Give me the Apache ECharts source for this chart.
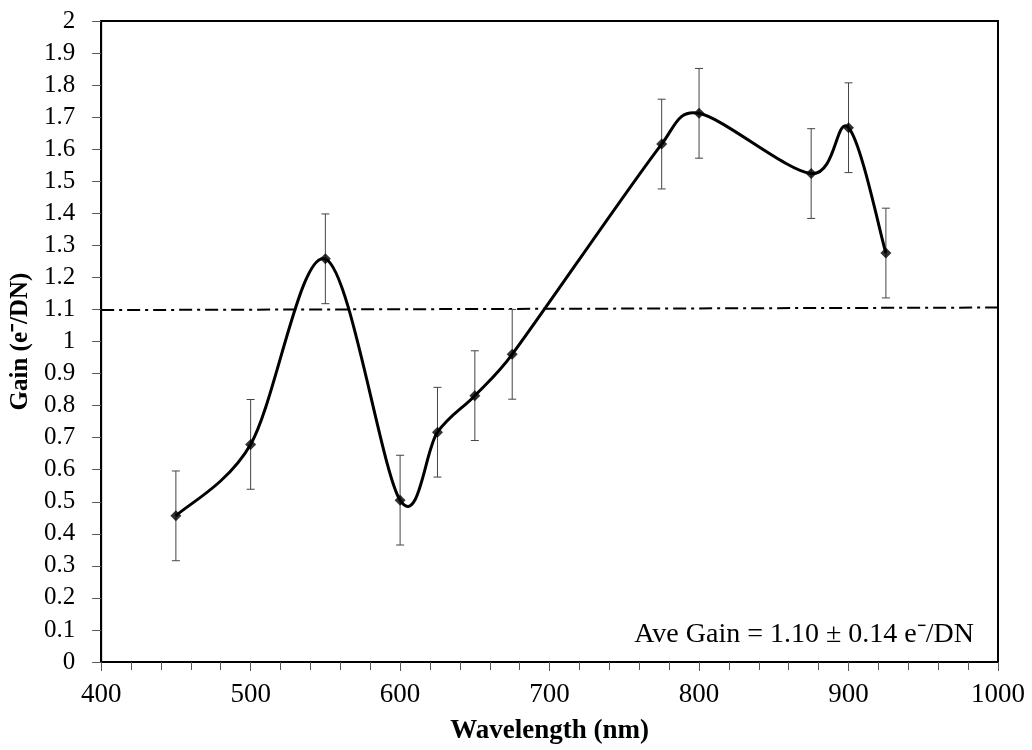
<!DOCTYPE html>
<html>
<head>
<meta charset="utf-8">
<script src="https://cdn.jsdelivr.net/npm/echarts@6/dist/echarts.min.js"></script>
<style>
  html, body { margin: 0; padding: 0; background: #fff; }
  #chart { width: 1032px; height: 750px; }
</style>
</head>
<body>
<div id="chart"></div>
<script>
// values
const wavelength = [450, 500, 550, 600, 625, 650, 675, 775, 800, 875, 900, 925];
const gain = [0.456, 0.679, 1.258, 0.505, 0.717, 0.831, 0.960, 1.616, 1.712, 1.524, 1.667, 1.276];
const gainError = [0.14, 0.14, 0.14, 0.14, 0.14, 0.14, 0.14, 0.14, 0.14, 0.14, 0.14, 0.14];
const aveX = [400, 1000];
const aveY = [1.098, 1.106];

const serif = '"Liberation Serif", "Times New Roman", serif';

const chart = echarts.init(document.getElementById('chart'));

const points = wavelength.map((w, i) => [w, gain[i]]);
const bars = wavelength.map((w, i) => [w, gain[i] - gainError[i], gain[i] + gainError[i]]);
const aveLine = aveX.map((x, i) => [x, aveY[i]]);

// keep a control arm no longer than part of its segment (stops cusps on short segments)
function arm(v, segLen) {
  const len = Math.hypot(v[0], v[1]);
  const maxLen = segLen * 0.45;
  if (len <= maxLen || len === 0) return v;
  return [v[0] * maxLen / len, v[1] * maxLen / len];
}

// Excel-like smoothed line: Catmull-Rom bezier between each pair of points,
// control points worked out in pixel space from the axis coords
function renderSpline(params, api) {
  const i = params.dataIndex;
  if (i >= points.length - 1) return null;
  const p = (k) => api.coord(points[Math.max(0, Math.min(points.length - 1, k))]);
  const p0 = p(i - 1), p1 = p(i), p2 = p(i + 1), p3 = p(i + 2);
  const seg = Math.hypot(p2[0] - p1[0], p2[1] - p1[1]);
  const a1 = arm([(p2[0] - p0[0]) / 6, (p2[1] - p0[1]) / 6], seg);
  const a2 = arm([(p3[0] - p1[0]) / 6, (p3[1] - p1[1]) / 6], seg);
  return {
    type: 'bezierCurve',
    shape: {
      x1: p1[0], y1: p1[1],
      x2: p2[0], y2: p2[1],
      cpx1: p1[0] + a1[0], cpy1: p1[1] + a1[1],
      cpx2: p2[0] - a2[0], cpy2: p2[1] - a2[1]
    },
    style: { stroke: '#000', lineWidth: 3, fill: null }
  };
}

const option = {
  backgroundColor: '#fff',
  animation: false,
  textStyle: { fontFamily: serif, color: '#000' },
  grid: {
    left: 101,
    top: 21,
    right: 34,
    bottom: 87,
    show: true,
    borderColor: '#000',
    borderWidth: 2,
    backgroundColor: 'transparent'
  },
  xAxis: {
    type: 'value',
    min: 400,
    max: 1000,
    interval: 100,
    name: 'Wavelength (nm)',
    nameLocation: 'middle',
    nameGap: 56,
    nameTextStyle: { fontFamily: serif, fontWeight: 'bold', fontSize: 27, color: '#000' },
    axisLine: { onZero: false, lineStyle: { color: '#000', width: 2 } },
    axisTick: { show: true, length: 9, lineStyle: { color: '#555', width: 1 } },
    minorTick: { show: true, splitNumber: 5, length: 8, lineStyle: { color: '#555', width: 1 } },
    axisLabel: {
      fontFamily: serif, fontSize: 27, color: '#000', margin: 19,
      formatter: (v) => String(v)
    },
    splitLine: { show: false }
  },
  yAxis: {
    type: 'value',
    min: 0,
    max: 2,
    interval: 0.1,
    name: 'Gain (e\u207B/DN)',
    nameLocation: 'middle',
    nameGap: 57,
    nameRotate: 90,
    nameTextStyle: { fontFamily: serif, fontWeight: 'bold', fontSize: 25, color: '#000' },
    axisLine: { show: true, lineStyle: { color: '#000', width: 2 } },
    axisTick: { show: true, length: 9, lineStyle: { color: '#555', width: 1 } },
    axisLabel: { fontFamily: serif, fontSize: 25, color: '#000', margin: 26 },
    splitLine: { show: false }
  },
  graphic: [
    {
      type: 'text',
      x: 974,
      y: 635,
      style: {
        text: 'Ave Gain = 1.10 \u00B1 0.14 e\u207B/DN',
        font: '28px ' + serif,
        fill: '#000',
        align: 'right',
        verticalAlign: 'middle'
      }
    }
  ],
  series: [
    {
      type: 'line',
      data: aveLine,
      symbol: 'none',
      lineStyle: { color: '#000', width: 2, type: [13, 5, 3, 5] },
      silent: true,
      z: 1
    },
    {
      type: 'custom',
      data: bars,
      z: 2,
      renderItem: function (params, api) {
        const x = api.value(0);
        const lo = api.coord([x, api.value(1)]);
        const hi = api.coord([x, api.value(2)]);
        const cap = 4;
        const style = { stroke: '#444', lineWidth: 1 };
        return {
          type: 'group',
          children: [
            { type: 'line', shape: { x1: lo[0], y1: lo[1], x2: hi[0], y2: hi[1] }, style: style },
            { type: 'line', shape: { x1: lo[0] - cap, y1: lo[1], x2: lo[0] + cap, y2: lo[1] }, style: style },
            { type: 'line', shape: { x1: hi[0] - cap, y1: hi[1], x2: hi[0] + cap, y2: hi[1] }, style: style }
          ]
        };
      }
    },
    {
      type: 'custom',
      data: points,
      z: 3,
      silent: true,
      renderItem: renderSpline
    },
    {
      type: 'scatter',
      data: points,
      symbol: 'diamond',
      symbolSize: 11,
      itemStyle: { color: '#000' },
      z: 4
    }
  ]
};

chart.setOption(option);
</script>
</body>
</html>
